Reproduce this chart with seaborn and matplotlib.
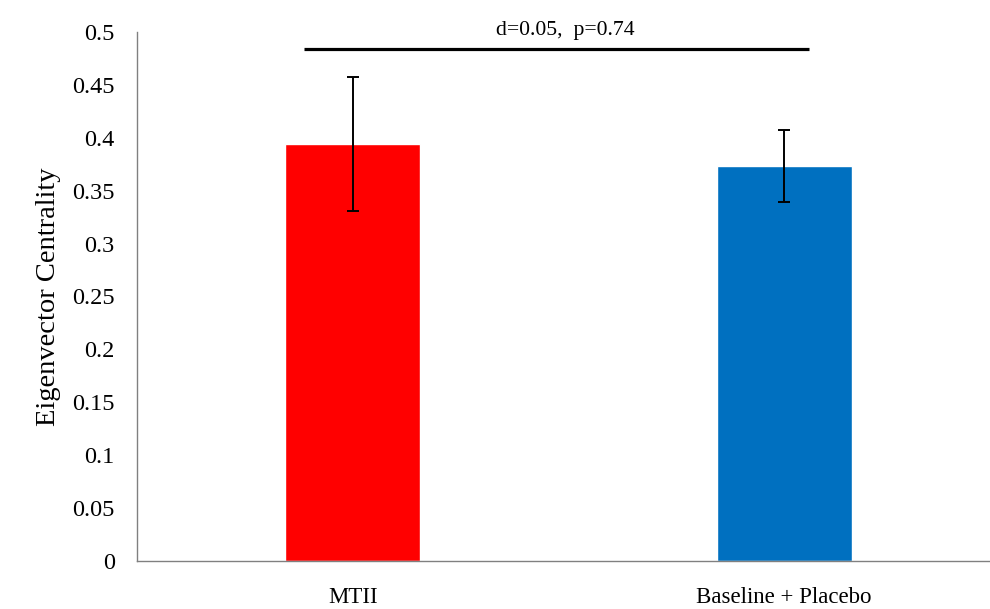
import matplotlib
matplotlib.use("Agg")
import matplotlib.pyplot as plt
import seaborn as sns
import pandas as pd

categories = ["MTII", "Baseline + Placebo"]
means = [0.394, 0.373]
errors = [0.063, 0.034]
bar_colors = ["#FF0000", "#0070C0"]
yticks = [0, 0.05, 0.1, 0.15, 0.2, 0.25, 0.3, 0.35, 0.4, 0.45, 0.5]
ytick_labels = ["0", "0.05", "0.1", "0.15", "0.2", "0.25", "0.3", "0.35", "0.4", "0.45", "0.5"]
annotation = "d=0.05,  p=0.74"
sig_level = 0.4836
sig_span = (-0.113, 1.057)

sns.set_theme(style="white")
plt.rcParams["font.family"] = ["Liberation Serif", "DejaVu Serif"]
plt.rcParams["text.color"] = "black"
plt.rcParams["xtick.color"] = "black"
plt.rcParams["ytick.color"] = "black"
plt.rcParams["axes.labelcolor"] = "black"

df = pd.DataFrame({"group": categories, "value": means})

fig = plt.figure(figsize=(9.9, 6.09), dpi=100)
ax = fig.add_axes([137 / 990, 48 / 609, 863 / 990, 529 / 609])

sns.barplot(data=df, x="group", y="value", hue="group", palette=bar_colors,
            width=0.313, legend=False, ax=ax, saturation=1, errorbar=None)

ax.errorbar(range(len(categories)), means, yerr=errors, fmt="none",
            ecolor="black", elinewidth=1.4, capsize=4, capthick=1.4, zorder=5)

ax.set_xlim(-0.5, 1.5)
ax.set_ylim(0, 0.5)
ax.set_yticks(yticks)
ax.set_yticklabels(ytick_labels, fontsize=17.5)
ax.tick_params(axis="both", length=0)
ax.tick_params(axis="y", pad=16)
ax.tick_params(axis="x", pad=19)
for lbl in ax.get_xticklabels():
    lbl.set_fontsize(16.5)
ax.set_xlabel("")
ax.set_ylabel("Eigenvector Centrality", fontsize=20.5, labelpad=8)

for side in ["top", "right"]:
    ax.spines[side].set_visible(False)
for side in ["left", "bottom"]:
    ax.spines[side].set_color("#808080")
    ax.spines[side].set_linewidth(1.0)

ax.plot(list(sig_span), [sig_level, sig_level], color="black", lw=2.3,
        clip_on=False, solid_capstyle="butt")
ax.text((sig_span[0] + sig_span[1]) / 2 + 0.02, sig_level + 0.018, annotation,
        ha="center", va="center", fontsize=15.7)

fig.savefig("out.png", dpi=100)
